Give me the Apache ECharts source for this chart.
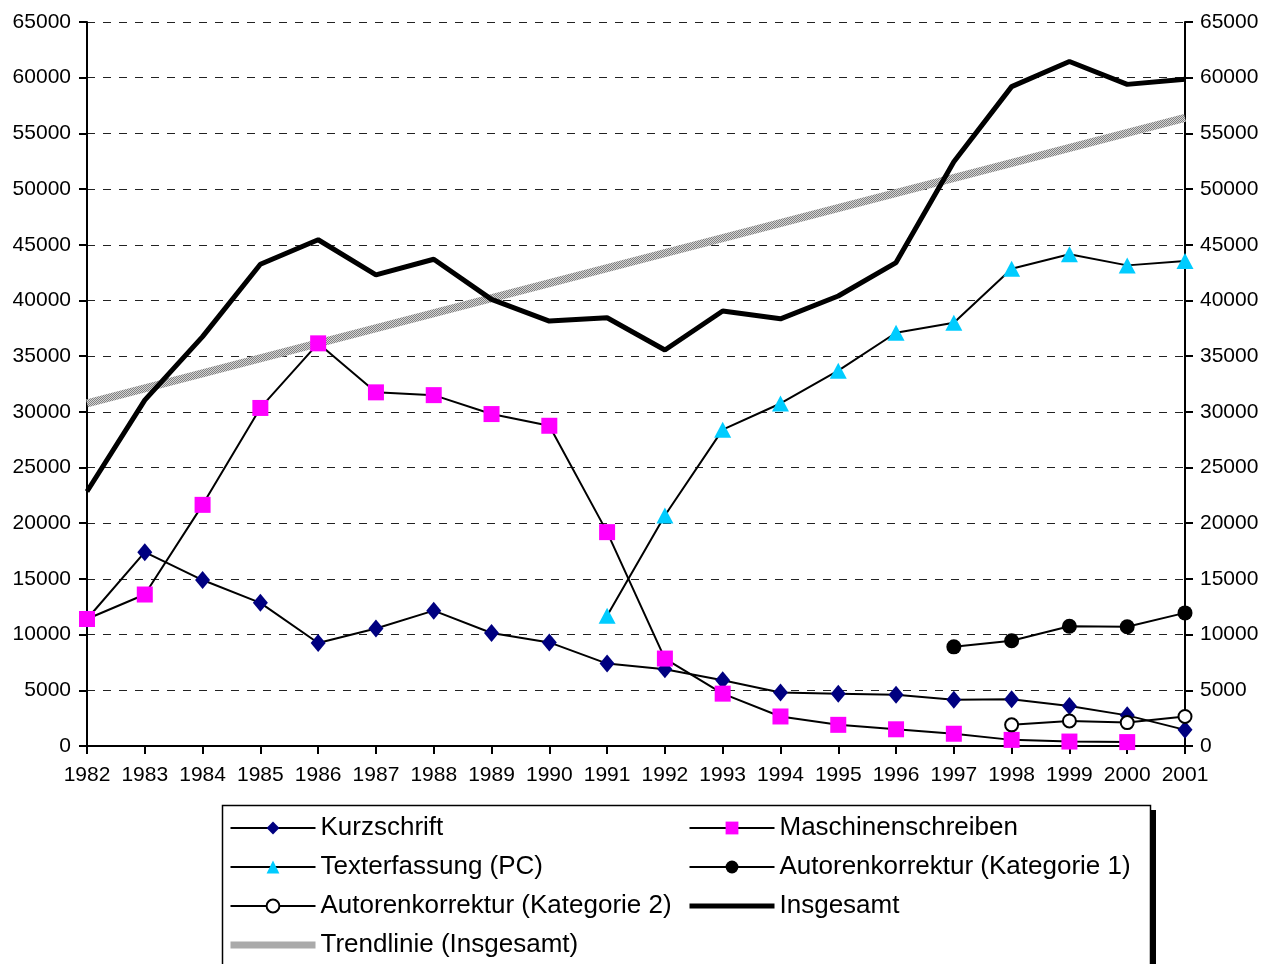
<!DOCTYPE html>
<html>
<head>
<meta charset="utf-8">
<script src="https://cdn.jsdelivr.net/npm/echarts@6/dist/echarts.min.js"></script>
<style>
  html, body { margin: 0; padding: 0; background: #fff; }
  #chart { width: 1264px; height: 964px; }
</style>
</head>
<body>
<div id="chart"></div>
<script>
var years = ['1982', '1983', '1984', '1985', '1986', '1987', '1988', '1989', '1990', '1991',
  '1992', '1993', '1994', '1995', '1996', '1997', '1998', '1999', '2000', '2001'];

var kurzschrift = [11400, 17400, 14900, 12850, 9250, 10550, 12150, 10150, 9300, 7400,
  6900, 5900, 4800, 4700, 4600, 4150, 4200, 3600, 2750, 1450];
var maschinen = [11400, 13600, 21650, 30350, 36150, 31750, 31500, 29800, 28750, 19200,
  7850, 4700, 2650, 1900, 1500, 1100, 550, 400, 350, null];
var texterfassung = [null, null, null, null, null, null, null, null, null, 11700,
  20700, 28400, 30750, 33700, 37100, 38000, 42850, 44150, 43150, 43550];
var autoren1 = [null, null, null, null, null, null, null, null, null, null,
  null, null, null, null, null, 8900, 9450, 10750, 10700, 11950];
var autoren2 = [null, null, null, null, null, null, null, null, null, null,
  null, null, null, null, null, null, 1900, 2250, 2100, 2650];
var insgesamt = [22850, 31050, 36750, 43250, 45450, 42300, 43700, 40100, 38150, 38450,
  35550, 39050, 38350, 40400, 43400, 52450, 59200, 61450, 59400, 59850];
// trend line: only the two end points
var trend = [30750, null, null, null, null, null, null, null, null, null,
  null, null, null, null, null, null, null, null, null, 56400];

var font = '"Liberation Sans", Arial, sans-serif';

// grey dither texture for the trend line
var tex = document.createElement('canvas');
tex.width = 2; tex.height = 2;
var tctx = tex.getContext('2d');
tctx.fillStyle = '#d4d4d4'; tctx.fillRect(0, 0, 2, 2);
tctx.fillStyle = '#808080'; tctx.fillRect(0, 0, 1, 1); tctx.fillRect(1, 1, 1, 1);
var trendColor = { image: tex, repeat: 'repeat' };

var chart = echarts.init(document.getElementById('chart'));

var legendText = { fontFamily: font, fontSize: 26, color: '#000', lineHeight: 28 };
var plain = function (v) { return String(v); };

chart.setOption({
  animation: false,
  grid: { left: 87, right: 79, top: 22, bottom: 218, outerBoundsMode: 'none' },
  xAxis: {
    type: 'category',
    data: years,
    boundaryGap: false,
    axisLine: { lineStyle: { color: '#000', width: 2 } },
    axisTick: { length: 8, lineStyle: { color: '#000', width: 2 } },
    axisLabel: { color: '#000', fontFamily: font, fontSize: 21, margin: 19, interval: 0 }
  },
  yAxis: [{
    type: 'value', min: 0, max: 65000, interval: 5000, position: 'left',
    axisLine: { show: true, lineStyle: { color: '#000', width: 2 } },
    axisTick: { show: true, length: 8, lineStyle: { color: '#000', width: 2 } },
    axisLabel: { color: '#000', fontFamily: font, fontSize: 21, margin: 16, formatter: plain },
    splitLine: { show: true, lineStyle: { color: '#222', width: 1, type: [8, 8] } }
  }, {
    type: 'value', min: 0, max: 65000, interval: 5000, position: 'right',
    axisLine: { show: true, lineStyle: { color: '#000', width: 2 } },
    axisTick: { show: true, length: 8, lineStyle: { color: '#000', width: 2 } },
    axisLabel: { color: '#000', fontFamily: font, fontSize: 21, margin: 15, formatter: plain },
    splitLine: { show: false }
  }],
  graphic: [
    { type: 'rect', z: 0, shape: { x: 1151, y: 810, width: 5, height: 160 }, style: { fill: '#000' } },
    { type: 'rect', z: 0, shape: { x: 222.5, y: 805.5, width: 928, height: 170 },
      style: { fill: '#fff', stroke: '#000', lineWidth: 1.5 } }
  ],
  legend: [{
    orient: 'vertical', left: 227, top: 814, padding: 0, itemWidth: 85, itemHeight: 16, itemGap: 11,
    textStyle: legendText,
    data: [
      { name: 'Kurzschrift', lineStyle: { width: 2 } },
      { name: 'Texterfassung (PC)', lineStyle: { width: 2 } },
      { name: 'Autorenkorrektur (Kategorie 2)', lineStyle: { width: 2 } },
      { name: 'Trendlinie (Insgesamt)', itemStyle: { opacity: 0 }, lineStyle: { width: 7 } }
    ]
  }, {
    orient: 'vertical', left: 687, top: 814, padding: 0, itemWidth: 85, itemHeight: 16, itemGap: 11,
    textStyle: legendText,
    data: [
      { name: 'Maschinenschreiben', lineStyle: { width: 2 } },
      { name: 'Autorenkorrektur (Kategorie 1)', lineStyle: { width: 2 } },
      { name: 'Insgesamt', itemStyle: { opacity: 0 }, lineStyle: { width: 5 } }
    ]
  }],
  series: [{
    name: 'Trendlinie (Insgesamt)', type: 'line', data: trend, connectNulls: true,
    symbol: 'none', z: 1,
    lineStyle: { color: trendColor, width: 8 }, itemStyle: { color: trendColor }
  }, {
    name: 'Kurzschrift', type: 'line', data: kurzschrift, z: 3,
    symbol: 'diamond', symbolSize: [15, 18],
    lineStyle: { color: '#000', width: 2 }, itemStyle: { color: '#000080' }
  }, {
    name: 'Maschinenschreiben', type: 'line', data: maschinen, z: 3,
    symbol: 'rect', symbolSize: 16,
    lineStyle: { color: '#000', width: 2 }, itemStyle: { color: '#ff00ff' }
  }, {
    name: 'Texterfassung (PC)', type: 'line', data: texterfassung, z: 3,
    symbol: 'triangle', symbolSize: [17, 16],
    lineStyle: { color: '#000', width: 2 }, itemStyle: { color: '#00ccff' }
  }, {
    name: 'Autorenkorrektur (Kategorie 1)', type: 'line', data: autoren1, z: 3,
    symbol: 'circle', symbolSize: 15,
    lineStyle: { color: '#000', width: 2 }, itemStyle: { color: '#000' }
  }, {
    name: 'Autorenkorrektur (Kategorie 2)', type: 'line', data: autoren2, z: 3,
    symbol: 'circle', symbolSize: 13,
    lineStyle: { color: '#000', width: 2 },
    itemStyle: { color: '#fff', borderColor: '#000', borderWidth: 2 }
  }, {
    name: 'Insgesamt', type: 'line', data: insgesamt, z: 2,
    symbol: 'none',
    lineStyle: { color: '#000', width: 5 }, itemStyle: { color: '#000' }
  }]
});
</script>
</body>
</html>
